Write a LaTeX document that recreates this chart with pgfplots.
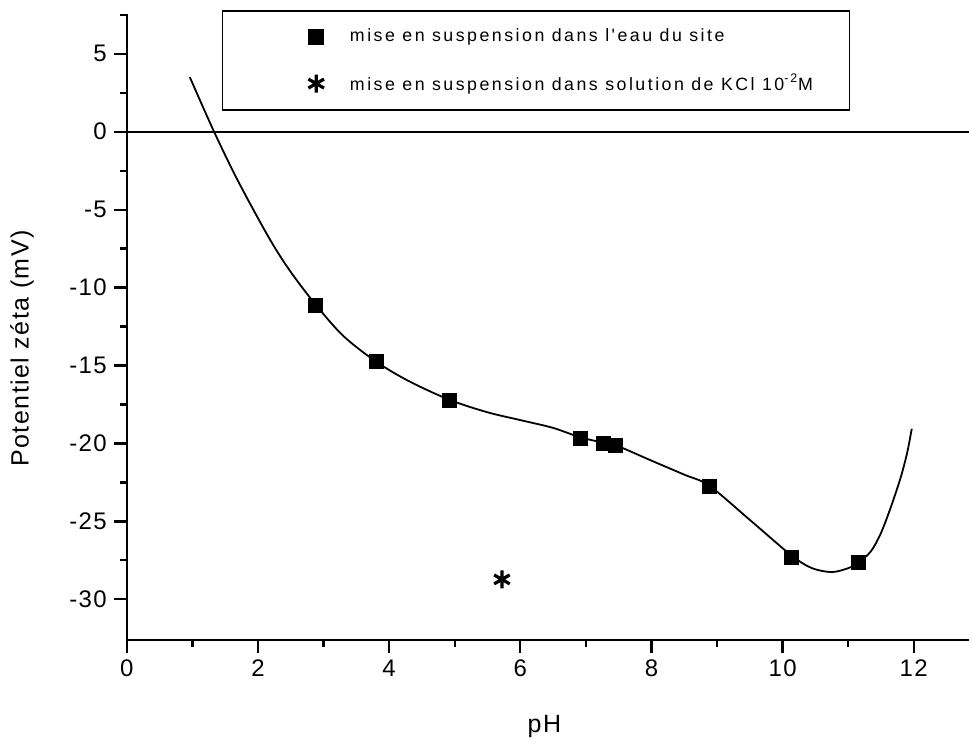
\documentclass[border=0pt]{standalone}
\usepackage{fontspec}
\setmainfont{Liberation Sans}[LetterSpace=6]
\newfontfamily\legfont{Liberation Sans}[LetterSpace=14]
\usepackage{pgfplots}
\pgfplotsset{compat=1.18}
\begin{document}
\begin{tikzpicture}
\begin{axis}[
 at={(0,0)}, anchor=south west,
 scale only axis, width=421.5pt, height=313.35pt,
 xmin=0, xmax=12.84, ymin=-32.6, ymax=7.55,
 axis x line=bottom, axis y line=left,
 axis line style={-, line width=1.2pt},
 xtick={0,2,...,12}, ytick={-30,-25,...,5},
 minor xtick={1,3,...,11}, minor ytick={-27.5,-22.5,...,7.5},
 tick align=outside, major tick length=6.5pt, minor tick length=3.5pt,
 tick style={line width=1.1pt, black},
 /pgf/number format/assume math mode=true,
 ticklabel style={font=\fontsize{12}{14}\selectfont},
 xlabel={pH}, ylabel={Potentiel zéta (mV)},
 label style={font=\fontsize{12.5}{14}\selectfont},
 xlabel style={at={(rel axis cs:0.496,-0.1377)}, anchor=center},
 ylabel style={at={(rel axis cs:-0.1246,0.4655)}, anchor=center},
 clip=false,
 legend style={at={(rel axis cs:0.1127,1.0064)}, anchor=north west,
   draw=black, line width=0.8pt, inner xsep=0pt, inner ysep=1.5pt,
   font=\legfont\fontsize{8.9}{10}\selectfont,
   nodes={inner sep=0pt}},
 legend cell align=left,
 legend image code/.code={\path (0pt,-11.25pt) (63pt,11.25pt);
   \draw[#1] plot coordinates {(46.5pt,0pt)};},
]
\addplot[forget plot, line width=1pt] coordinates {(0,0) (12.84,0)};
\addplot[forget plot, smooth, line width=0.9pt] coordinates {
(0.96,3.5) (1.33,0) (1.7,-3.2) (2.18,-6.9) (2.5,-9.0) (2.88,-11.1)
(3.3,-13.1) (3.8,-14.75) (4.3,-16.0) (4.92,-17.2) (5.5,-18.0) (6.0,-18.5)
(6.5,-19.0) (6.91,-19.6) (7.27,-19.95) (7.45,-20.1) (8.0,-21.1) (8.5,-22.0)
(8.88,-22.7) (9.5,-24.9) (10.14,-27.2) (10.45,-28.0) (10.75,-28.25)
(11.0,-28.0) (11.16,-27.65) (11.35,-26.9) (11.5,-25.75) (11.65,-24.1)
(11.8,-22.2) (11.9,-20.6) (11.97,-19.06)};
\addplot[only marks, mark=square*, mark size=3.5pt, black] coordinates {
(2.88,-11.13) (3.80,-14.76) (4.92,-17.22) (6.91,-19.7) (7.27,-20.0)
(7.45,-20.1) (8.88,-22.73) (10.14,-27.33) (11.16,-27.65)};
\addplot[only marks, mark=asterisk, mark size=4.5pt, black, mark options={line width=1.6pt}] coordinates {(5.72,-28.72)};
\legend{\makebox[250pt][l]{mise en suspension dans l'eau du site},
\makebox[250pt][l]{mise en suspension dans solution de KCl 10\textsuperscript{-2}M}}
\end{axis}
\path[use as bounding box] (-63.5pt,-48.65pt) rectangle (421.5pt,320.35pt);
\end{tikzpicture}
\end{document}
